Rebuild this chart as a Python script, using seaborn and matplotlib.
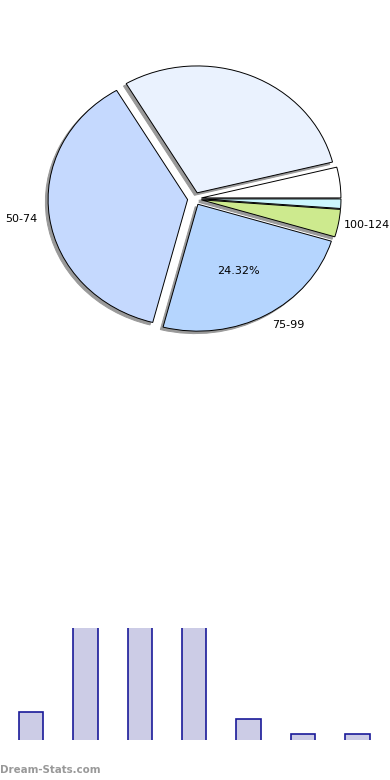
# Pie of ranges + partly visible bar chart below
import matplotlib
matplotlib.use("Agg")
import matplotlib.pyplot as plt
import seaborn as sns
import pandas as pd

# Pie data (share in %), counter-clockwise from 3 o'clock
pie_labels = ["", "", "50-74", "75-99", "100-124", ""]
pie_values = [3.9, 29.6, 37.48, 24.32, 3.5, 1.2]
pie_colors = ["#ffffff", "#eaf2fe", "#c5d9fe", "#b5d5fe", "#cdea8e", "#ccf6fe"]
pct_shown = "75-99"

# Bar data (lower chart, top of the tall bars is cut off)
bar_cats = ["b1", "b2", "b3", "b4", "b5", "b6", "b7"]
bar_values = [4, 20, 24, 18, 3, 1, 1]

sns.set_style("white")
plt.rcParams["font.family"] = ["DejaVu Sans"]

fig = plt.figure(figsize=(3.9, 7.8), dpi=100)

# --- pie ---
W, H = 390.0, 780.0
cx, cy, rx, ry = 194.5, 198.7, 139.5, 126.9
lim = 1.3
ax = fig.add_axes([(cx - lim * rx) / W, 1 - (cy + lim * ry) / H,
                   2 * lim * rx / W, 2 * lim * ry / H])
wedges, texts, autotexts = ax.pie(
    pie_values, labels=pie_labels, colors=pie_colors, startangle=0,
    explode=[0.05] * len(pie_values), autopct="%.2f%%", pctdistance=0.6,
    labeldistance=1.09,
    shadow={"ox": -0.014, "oy": -0.014, "facecolor": "#999999",
            "edgecolor": "#999999", "alpha": 1.0},
    wedgeprops={"edgecolor": "black", "linewidth": 0.7},
    textprops={"fontsize": 8, "color": "black"},
)
for lab, t in zip(pie_labels, autotexts):
    t.set_visible(lab == pct_shown)
# keep the right-hand label inside the picture
for t in texts:
    if t.get_text() == "100-124":
        x, y = t.get_position()
        t.set_position((x - 0.05, y))
ax.set_xlim(-lim, lim)
ax.set_ylim(-lim, lim)
ax.set_aspect("auto")
ax.axis("off")

# --- bars ---
bdf = pd.DataFrame({"cat": bar_cats, "val": bar_values})
bx = fig.add_axes([3.8 / W, 1 - 740 / H, 380.8 / W, 112 / H])
sns.barplot(data=bdf, x="cat", y="val", ax=bx, color="#ccccE6", saturation=1,
            width=0.45, edgecolor="#1a1a99", linewidth=1.2)
bx.set_xlim(-0.5, 6.5)
bx.set_ylim(0.08, 16)
bx.axis("off")

fig.text(0.0, 1 - 770 / H, "Dream-Stats.com", fontsize=7.4, color="#999999",
         fontweight="bold", ha="left", va="center")

fig.savefig("out.png", dpi=100)
